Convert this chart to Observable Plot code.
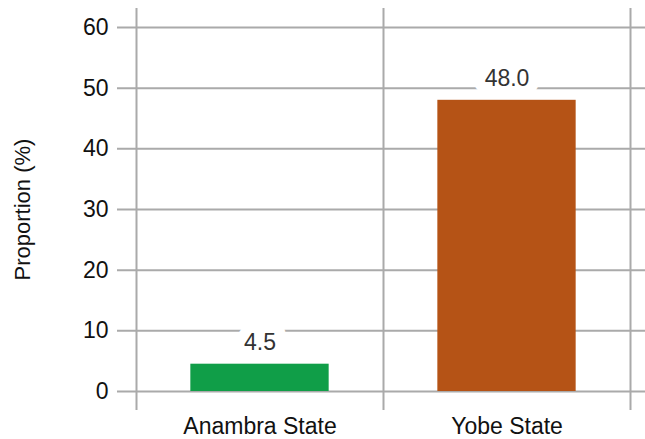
<!DOCTYPE html>
<html>
<head>
<meta charset="utf-8">
<script src="https://cdn.jsdelivr.net/npm/d3@7"></script>
<script src="https://cdn.jsdelivr.net/npm/@observablehq/plot@0.6"></script>
<style>
  html, body { margin: 0; padding: 0; background: #fff; }
</style>
</head>
<body>
<div id="chart"></div>
<script>
const categories = ["Anambra State", "Yobe State"];
const values = [4.5, 48.0];
const colors = ["#109e48", "#b55316"];
const yTicks = [0, 10, 20, 30, 40, 50, 60];
const xBoundaries = [0, 1, 2];
const yTitle = "Proportion (%)";

const data = categories.map((c, i) => ({category: c, index: i, value: values[i], color: colors[i]}));

const font = "'Liberation Sans', Arial, Helvetica, sans-serif";

const chart = Plot.plot({
  width: 645,
  height: 439,
  marginLeft: 136,
  marginRight: 15,
  marginTop: 27,
  marginBottom: 48,
  style: {fontFamily: font, background: "#fff"},
  x: {domain: [0, 2], axis: null},
  y: {domain: [0, 60], axis: null},
  marks: [
    Plot.ruleY(yTicks, {stroke: "#aaaaaa", strokeWidth: 2, insetLeft: -19, insetRight: -15}),
    Plot.ruleX(xBoundaries, {stroke: "#aaaaaa", strokeWidth: 2, insetTop: -19, insetBottom: -19}),
    Plot.rectY(data, {
      x1: d => d.index + 0.22,
      x2: d => d.index + 0.78,
      y1: 0,
      y2: "value",
      fill: d => d.color
    }),
    Plot.text(data, {
      x: d => d.index + 0.5,
      y: "value",
      text: d => d.value.toFixed(1),
      lineAnchor: "bottom",
      dy: -14,
      fontSize: 23,
      fill: "#333",
      stroke: "white",
      strokeWidth: 22,
      paintOrder: "stroke"
    }),
    Plot.axisY(yTicks, {
      anchor: "left",
      tickSize: 0,
      tickPadding: 28,
      fontSize: 23,
      fill: "#111",
      label: null
    }),
    Plot.axisX(data.map(d => d.index + 0.5), {
      anchor: "bottom",
      tickSize: 0,
      tickPadding: 26,
      fontSize: 23,
      fill: "#111",
      tickFormat: v => categories[Math.floor(v)],
      label: null
    }),
    Plot.text([yTitle], {
      frameAnchor: "left",
      rotate: -90,
      dx: -114,
      textAnchor: "middle",
      lineAnchor: "middle",
      fontSize: 22,
      fill: "#111"
    })
  ]
});

document.getElementById("chart").appendChild(chart);
</script>
</body>
</html>
